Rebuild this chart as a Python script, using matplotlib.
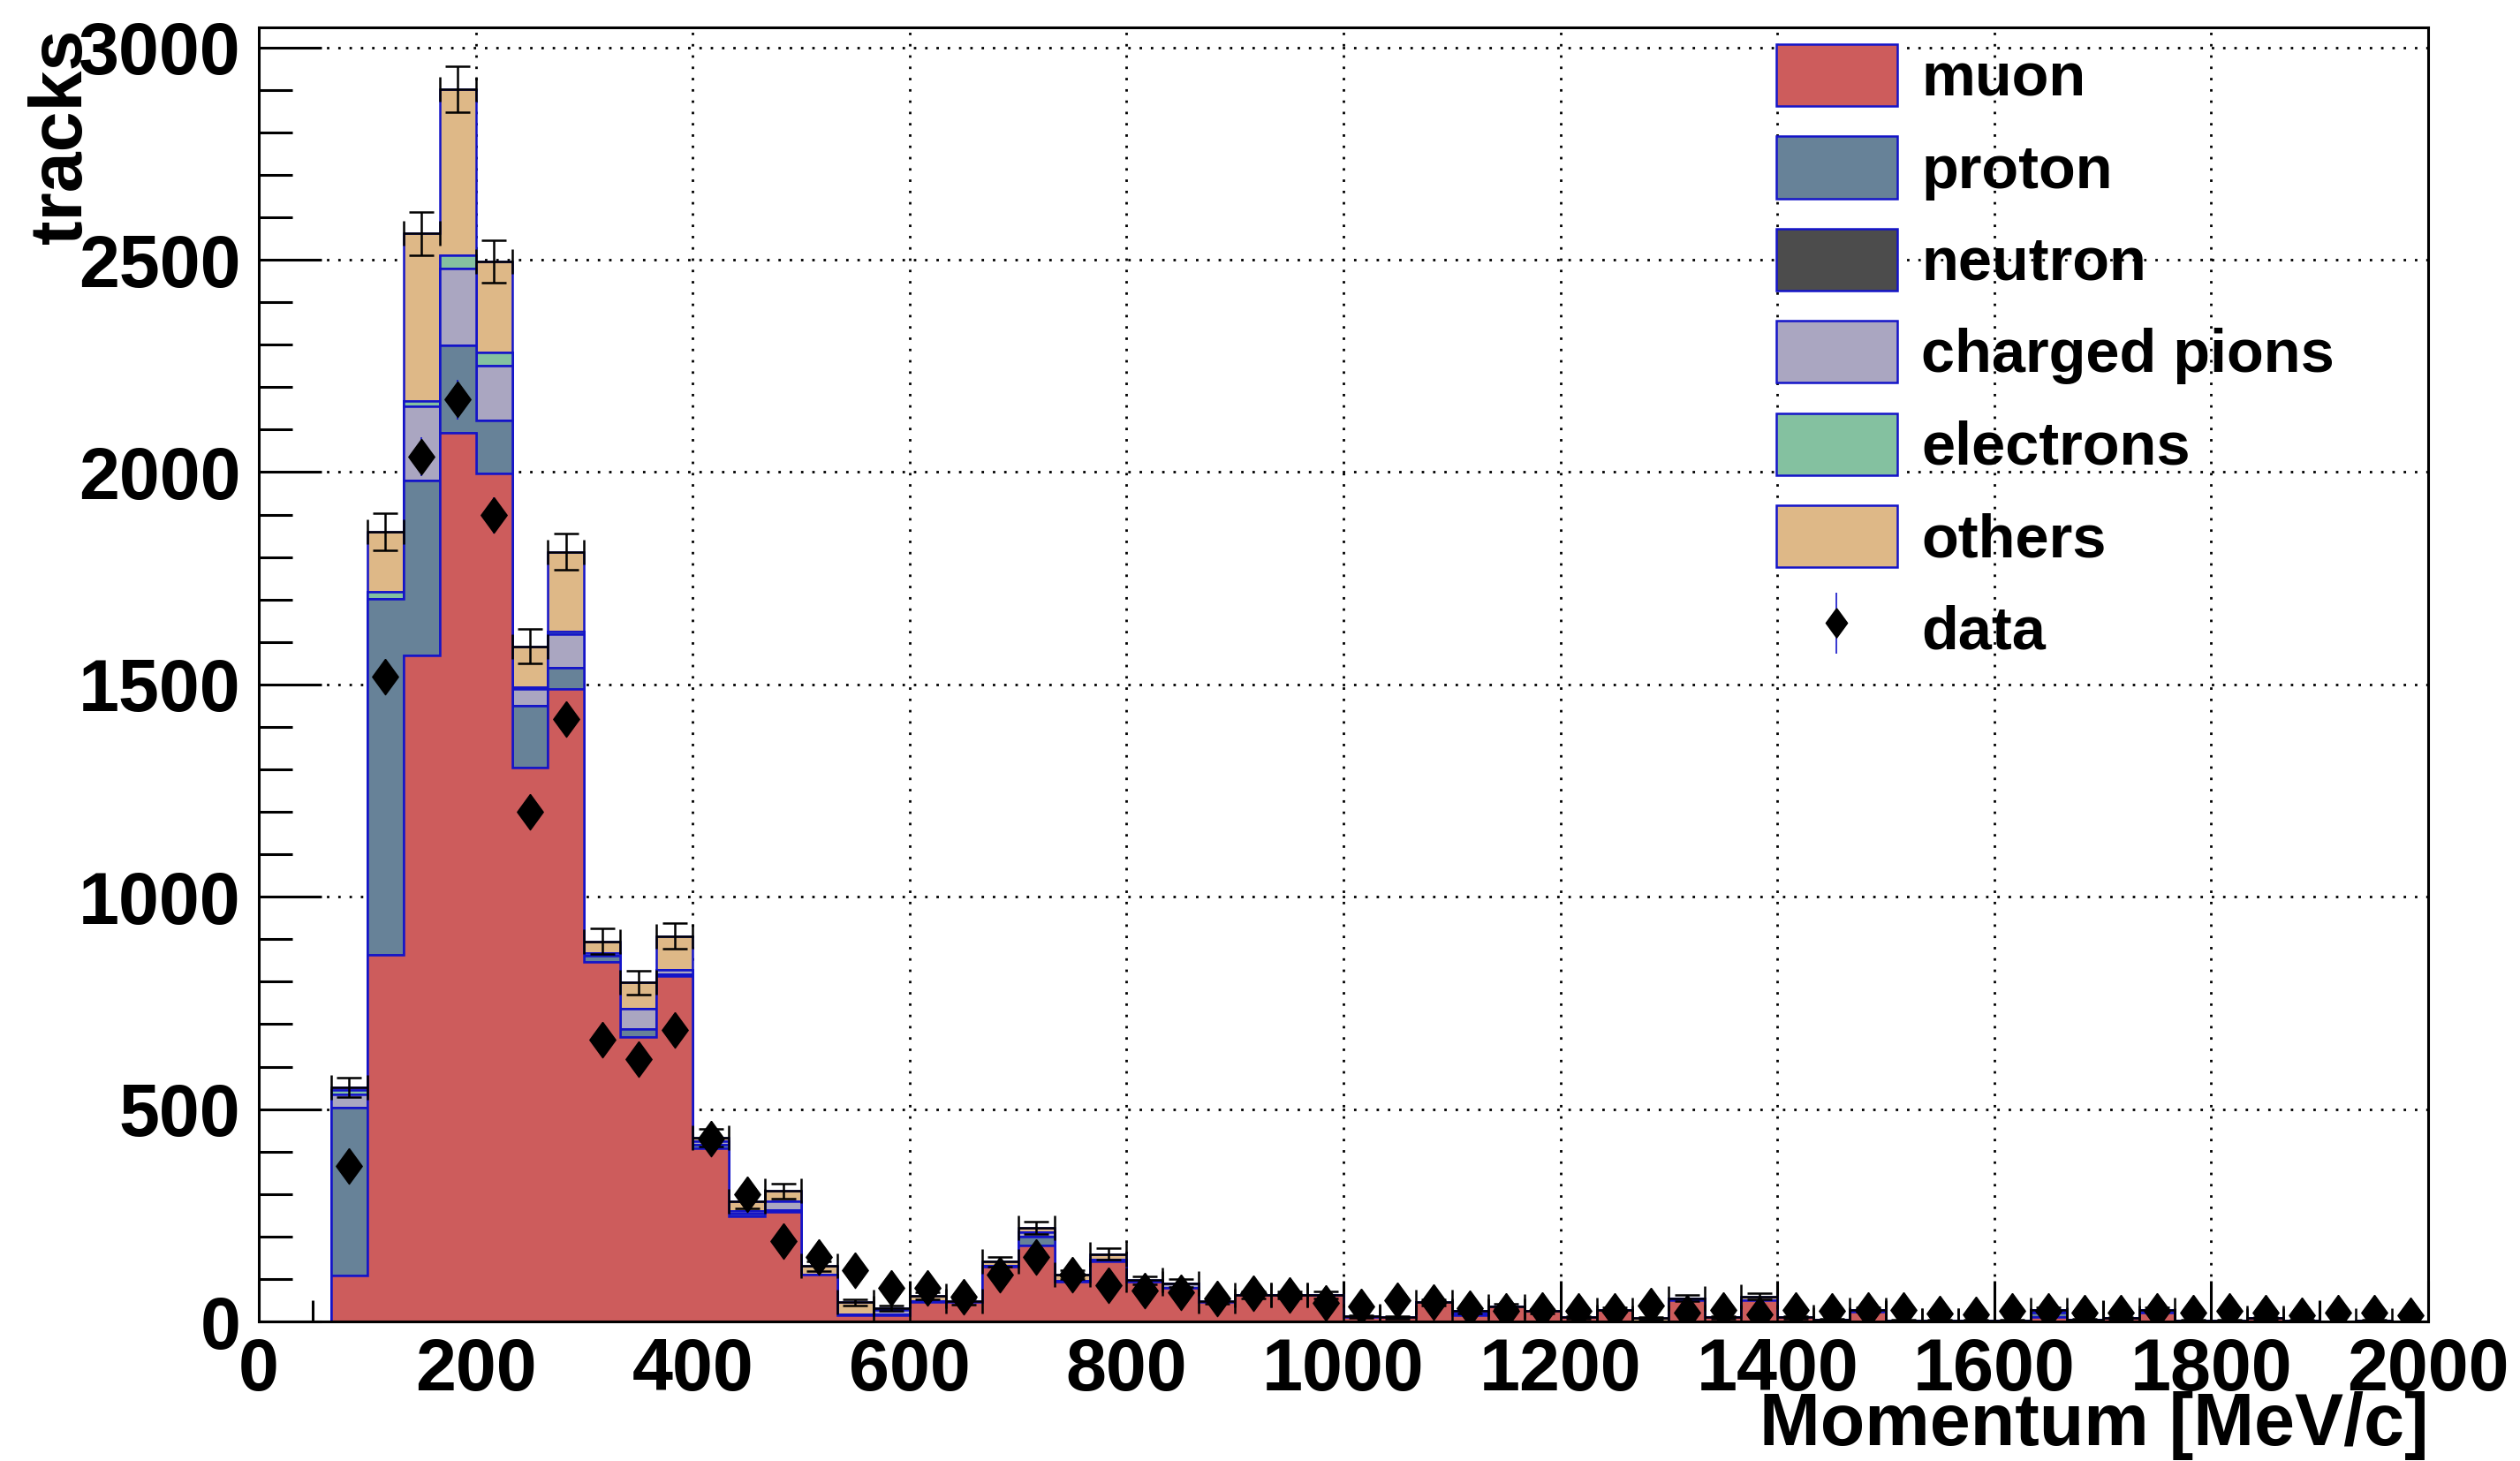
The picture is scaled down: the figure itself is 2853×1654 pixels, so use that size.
#!/usr/bin/env python3
"""Stacked MC momentum histogram by particle type vs data"""

import numpy as np
import matplotlib
matplotlib.use('Agg')
import matplotlib.pyplot as plt
from matplotlib.ticker import MultipleLocator

# 60 bins of 33.3 MeV/c between 0 and 2000
bin_low = 0
bin_high = 2000
n_bins = 60

muon = [0, 0, 108, 864, 1568, 2092, 1997, 1305, 1489, 847,
        670, 813, 407, 247, 257, 110, 14, 14, 45, 45,
        128, 179, 93, 141, 93, 79, 45, 62, 62, 62,
        10, 10, 45, 14, 35, 24, 10, 28, 0, 49,
        10, 49, 10, 5, 22, 3, 3, 3, 3, 10,
        5, 8, 20, 3, 3, 8, 3, 0, 3, 0]
proton = [0, 0, 395, 837, 413, 206, 124, 145, 51, 15,
          19, 4, 8, 6, 5, 0, 3, 3, 3, 0,
          3, 21, 3, 4, 0, 0, 0, 0, 0, 0,
          0, 0, 0, 5, 0, 0, 0, 0, 0, 6,
          0, 0, 0, 0, 6, 0, 0, 0, 0, 10,
          0, 0, 8, 0, 0, 0, 0, 0, 0, 0]
neutron = [0] * 60
pions = [0, 0, 32, 0, 174, 182, 129, 39, 79, 6,
         47, 11, 10, 6, 21, 0, 0, 9, 0, 0,
         0, 10, 0, 0, 0, 11, 0, 0, 0, 0,
         0, 0, 0, 5, 0, 0, 0, 0, 0, 0,
         0, 0, 0, 0, 0, 0, 0, 0, 0, 8,
         0, 0, 0, 0, 0, 0, 0, 0, 0, 0]
electrons = [0, 0, 10, 16, 13, 31, 32, 5, 5, 0] + [0] * 50
others = [0, 0, 6, 142, 394, 391, 214, 96, 188, 27,
          62, 79, 8, 23, 24, 20, 28, 5, 12, 2,
          10, 11, 14, 14, 4, 0, 3, 0, 0, 0,
          2, 0, 0, 0, 0, 0, 0, 0, 8, 0,
          0, 10, 0, 0, 0, 0, 0, 0, 0, 0,
          0, 0, 0, 0, 0, 0, 0, 0, 0, 0]

data = [0, 0, 367, 1518, 2036, 2171, 1898, 1201, 1418, 664,
        617, 687, 430, 300, 190, 152, 121, 79, 79, 59,
        110, 152, 110, 86, 72, 69, 55, 66, 62, 43,
        35, 49, 45, 31, 24, 28, 24, 24, 38, 21,
        28, 17, 28, 24, 28, 26, 19, 17, 24, 24,
        21, 21, 24, 21, 24, 21, 14, 21, 21, 14]

labels = ['muon', 'proton', 'neutron', 'charged pions', 'electrons', 'others']
colors = ['#CD5C5C', '#678298', '#4C4C4C', '#AAA6C1', '#84C1A0', '#DEB887']
edge_blue = '#1414C8'

plt.rcParams['font.family'] = ['Liberation Sans', 'DejaVu Sans']
plt.rcParams['font.weight'] = 'bold'

W, H = 2853, 1654
fig = plt.figure(figsize=(W / 100, H / 100), dpi=100)
ax_l, ax_r, ax_t, ax_b = 293, 2749, 31, 1496
ax = fig.add_axes([ax_l / W, 1 - ax_b / H, (ax_r - ax_l) / W, (ax_b - ax_t) / H])

edges = np.linspace(bin_low, bin_high, n_bins + 1)
centers = 0.5 * (edges[:-1] + edges[1:])
half_w = 0.5 * (edges[1] - edges[0])

# stacked MC
components = [muon, proton, neutron, pions, electrons, others]
_, _, patches = ax.hist([centers] * len(components), bins=edges, weights=components,
                        histtype='stepfilled', stacked=True, color=colors,
                        edgecolor=edge_blue, linewidth=1.8, zorder=2)

total = np.sum(np.array(components, dtype=float), axis=0)
has_mc = total > 0
ax.errorbar(centers[has_mc], total[has_mc], xerr=half_w, yerr=np.sqrt(total[has_mc]),
            fmt='none', ecolor='black', elinewidth=1.8, capsize=10, capthick=1.8, zorder=3)

# data points
data = np.array(data, dtype=float)
has_data = data > 0
diamond = [(0, 1), (0.73, 0), (0, -1), (-0.73, 0), (0, 1)]
ax.errorbar(centers[has_data], data[has_data], yerr=np.sqrt(data[has_data]),
            fmt='none', ecolor=edge_blue, elinewidth=1.2, zorder=4)
ax.plot(centers[has_data], data[has_data], linestyle='none', marker=diamond,
        markersize=29, color='black', zorder=5)
# legend proxy for data
data_handle = ax.errorbar([], [], yerr=[], fmt='none', ecolor=edge_blue, elinewidth=1.2)
marker_handle, = ax.plot([], [], linestyle='none', marker=diamond, markersize=24, color='black')

ax.set_xlim(bin_low, bin_high)
ax.set_ylim(0, total.max() * 1.05)

ax.xaxis.set_major_locator(MultipleLocator(200))
ax.xaxis.set_minor_locator(MultipleLocator(50))
ax.yaxis.set_major_locator(MultipleLocator(500))
ax.yaxis.set_minor_locator(MultipleLocator(100))

ax.tick_params(axis='y', which='major', direction='in', length=51, width=2.2,
               labelsize=59.5, pad=15, right=False)
ax.tick_params(axis='y', which='minor', direction='in', length=27, width=2.2, right=False)
ax.tick_params(axis='x', which='major', direction='in', length=33, width=2.2,
               labelsize=59.5, pad=12, top=False)
ax.tick_params(axis='x', which='minor', direction='in', length=17, width=2.2, top=False)
for lab in ax.get_xticklabels() + ax.get_yticklabels():
    lab.set_fontweight('bold')

for sp in ax.spines.values():
    sp.set_linewidth(2.2)
    sp.set_zorder(6)

ax.set_axisbelow(True)
ax.grid(True, which='major', color='black', linestyle=(0, (1, 3.6)), linewidth=2.0, zorder=0)

ax.set_ylabel('tracks', loc='top', fontsize=59.5, fontweight='bold')
ax.yaxis.set_label_coords((109 - ax_l) / (ax_r - ax_l), (ax_b - 33) / (ax_b - ax_t))

fig.text(ax_r / W, 18 / H, 'Momentum [MeV/c]', ha='right', va='baseline',
         fontsize=59.5, fontweight='bold')

# one polygon per component, in stacking order (muon first)
hist_handles = [p[0] for p in patches]
leg = ax.legend(hist_handles + [(data_handle, marker_handle)], labels + ['data'],
                loc='upper left',
                bbox_to_anchor=((2011 - ax_l) / (ax_r - ax_l), (ax_b - 50) / (ax_b - ax_t)),
                frameon=False, borderpad=0, borderaxespad=0, handlelength=2.0, handleheight=1.2,
                labelspacing=0.47, handletextpad=0.4,
                prop={'family': 'Liberation Sans', 'weight': 'bold', 'size': 49.3})
leg.set_zorder(7)

fig.savefig('out.png', dpi=100)
